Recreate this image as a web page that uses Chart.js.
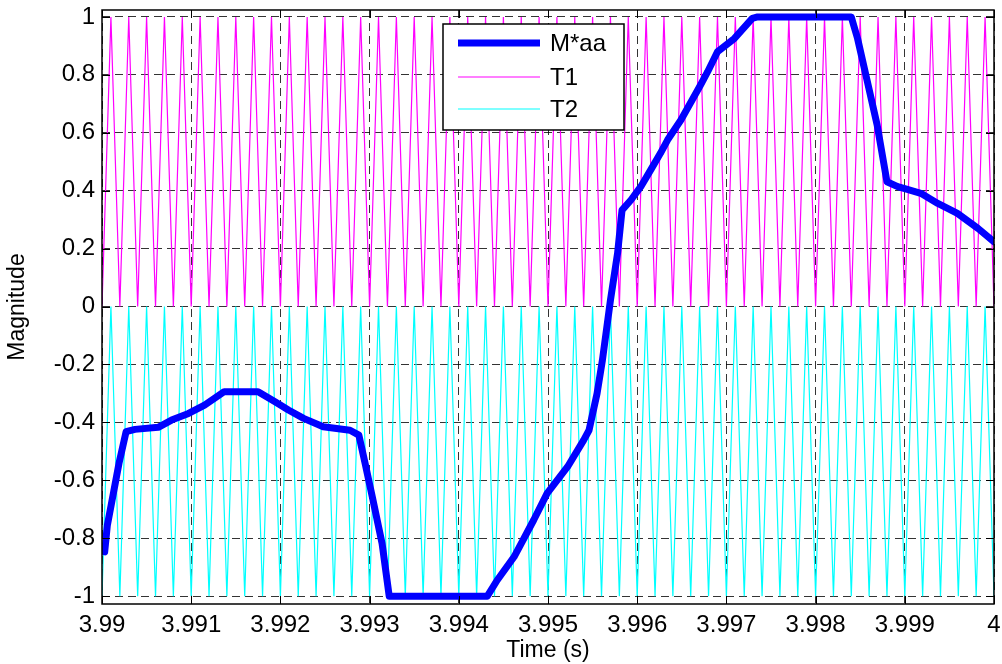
<!DOCTYPE html>
<html>
<head>
<meta charset="utf-8">
<script src="https://cdn.jsdelivr.net/npm/chart.js@4/dist/chart.umd.min.js"></script>
<style>
html,body{margin:0;padding:0;background:#fff;}
#wrap{width:1002px;height:664px;}
</style>
</head>
<body>
<div id="wrap"><canvas id="c" width="1002" height="664"></canvas></div>
<script>
// ---- data ----
const xTickValues = [3.99, 3.991, 3.992, 3.993, 3.994, 3.995, 3.996, 3.997, 3.998, 3.999, 4.0];
const xTickLabels = ['3.99', '3.991', '3.992', '3.993', '3.994', '3.995', '3.996', '3.997', '3.998', '3.999', '4'];
const yTickValues = [-1, -0.8, -0.6, -0.4, -0.2, 0, 0.2, 0.4, 0.6, 0.8, 1];
const yTickLabels = ['-1', '-0.8', '-0.6', '-0.4', '-0.2', '0', '0.2', '0.4', '0.6', '0.8', '1'];

const maTime = [3.99003, 3.99006, 3.9901, 3.99019, 3.99027, 3.99037, 3.99063, 3.99078, 3.99097, 3.99115,
  3.99137, 3.99175, 3.99194, 3.99209, 3.99226, 3.99248, 3.99278, 3.99288, 3.99295, 3.99303,
  3.99314, 3.99322, 3.99432, 3.99443, 3.99462, 3.99484, 3.99499, 3.99522, 3.9954, 3.99546,
  3.99555, 3.99561, 3.9957, 3.99578, 3.99583, 3.99593, 3.99604, 3.99615, 3.99626, 3.99634,
  3.99649, 3.99671, 3.99679, 3.9969, 3.99709, 3.99729, 3.99735, 3.9984, 3.99847, 3.99858,
  3.99869, 3.9988, 3.99892, 3.99899, 3.99918, 3.99937, 3.99959, 3.99982, 4.0];
const maValue = [-0.847, -0.755, -0.69, -0.542, -0.432, -0.424, -0.417, -0.392, -0.369, -0.340,
  -0.294, -0.294, -0.329, -0.357, -0.386, -0.415, -0.427, -0.444, -0.542, -0.657,
  -0.818, -1.0, -1.0, -0.945, -0.864, -0.737, -0.645, -0.553, -0.461, -0.427,
  -0.300, -0.185, 0.022, 0.184, 0.333, 0.368, 0.414, 0.471, 0.529, 0.575,
  0.644, 0.765, 0.811, 0.880, 0.926, 0.995, 1.0, 1.0, 0.926, 0.777,
  0.627, 0.431, 0.414, 0.408, 0.391, 0.356, 0.322, 0.270, 0.224];

const triTime = [3.99, 3.9901, 3.9902, 3.9903, 3.9904, 3.9905, 3.9906, 3.9907, 3.9908, 3.9909,
  3.991, 3.9911, 3.9912, 3.9913, 3.9914, 3.9915, 3.9916, 3.9917, 3.9918, 3.9919,
  3.992, 3.9921, 3.9922, 3.9923, 3.9924, 3.9925, 3.9926, 3.9927, 3.9928, 3.9929,
  3.993, 3.9931, 3.9932, 3.9933, 3.9934, 3.9935, 3.9936, 3.9937, 3.9938, 3.9939,
  3.994, 3.9941, 3.9942, 3.9943, 3.9944, 3.9945, 3.9946, 3.9947, 3.9948, 3.9949,
  3.995, 3.9951, 3.9952, 3.9953, 3.9954, 3.9955, 3.9956, 3.9957, 3.9958, 3.9959,
  3.996, 3.9961, 3.9962, 3.9963, 3.9964, 3.9965, 3.9966, 3.9967, 3.9968, 3.9969,
  3.997, 3.9971, 3.9972, 3.9973, 3.9974, 3.9975, 3.9976, 3.9977, 3.9978, 3.9979,
  3.998, 3.9981, 3.9982, 3.9983, 3.9984, 3.9985, 3.9986, 3.9987, 3.9988, 3.9989,
  3.999, 3.9991, 3.9992, 3.9993, 3.9994, 3.9995, 3.9996, 3.9997, 3.9998, 3.9999, 4.0];
const t1Value = [0, 1, 0, 1, 0, 1, 0, 1, 0, 1, 0, 1, 0, 1, 0, 1, 0, 1, 0, 1,
  0, 1, 0, 1, 0, 1, 0, 1, 0, 1, 0, 1, 0, 1, 0, 1, 0, 1, 0, 1,
  0, 1, 0, 1, 0, 1, 0, 1, 0, 1, 0, 1, 0, 1, 0, 1, 0, 1, 0, 1,
  0, 1, 0, 1, 0, 1, 0, 1, 0, 1, 0, 1, 0, 1, 0, 1, 0, 1, 0, 1,
  0, 1, 0, 1, 0, 1, 0, 1, 0, 1, 0, 1, 0, 1, 0, 1, 0, 1, 0, 1, 0];
const t2Value = [-1, 0, -1, 0, -1, 0, -1, 0, -1, 0, -1, 0, -1, 0, -1, 0, -1, 0, -1, 0,
  -1, 0, -1, 0, -1, 0, -1, 0, -1, 0, -1, 0, -1, 0, -1, 0, -1, 0, -1, 0,
  -1, 0, -1, 0, -1, 0, -1, 0, -1, 0, -1, 0, -1, 0, -1, 0, -1, 0, -1, 0,
  -1, 0, -1, 0, -1, 0, -1, 0, -1, 0, -1, 0, -1, 0, -1, 0, -1, 0, -1, 0,
  -1, 0, -1, 0, -1, 0, -1, 0, -1, 0, -1, 0, -1, 0, -1, 0, -1, 0, -1, 0, -1];

const seriesNames = ['M*aa', 'T1', 'T2'];
const seriesColors = ['#0000ff', '#ff00ff', '#00ffff'];

// ---- chart ----
const FONT = "'Liberation Sans', Arial, Helvetica, sans-serif";
const pts = (xs, ys) => xs.map((x, i) => ({x: x, y: ys[i]}));
const zeroPad = s => { s.paddingLeft = 0; s.paddingRight = 0; s.paddingTop = 0; s.paddingBottom = 0; };

const frameAndLegend = {
  id: 'frameAndLegend',
  afterDatasetsDraw(chart) {
    const ctx = chart.ctx;
    const a = chart.chartArea;
    const xs = chart.scales.x, ys = chart.scales.y;
    ctx.save();
    ctx.strokeStyle = '#000';
    ctx.lineWidth = 1.5;
    ctx.setLineDash([]);
    ctx.strokeRect(a.left, a.top, a.right - a.left, a.bottom - a.top);
    ctx.lineWidth = 1;
    const TL = 8;
    ctx.beginPath();
    xTickValues.forEach(v => {
      const px = Math.round(xs.getPixelForValue(v)) + 0.5;
      ctx.moveTo(px, a.bottom); ctx.lineTo(px, a.bottom - TL);
      ctx.moveTo(px, a.top); ctx.lineTo(px, a.top + TL);
    });
    yTickValues.forEach(v => {
      const py = Math.round(ys.getPixelForValue(v)) + 0.5;
      ctx.moveTo(a.left, py); ctx.lineTo(a.left + TL, py);
      ctx.moveTo(a.right, py); ctx.lineTo(a.right - TL, py);
    });
    ctx.stroke();

    // legend
    const bx = 443, by = 24, bw = 181, bh = 106;
    ctx.fillStyle = '#fff';
    ctx.fillRect(bx, by, bw, bh);
    ctx.lineWidth = 1.5;
    ctx.strokeRect(bx, by, bw, bh);
    const rowsY = [43, 77, 109];
    chart.data.datasets.forEach((ds, i) => {
      ctx.beginPath();
      ctx.strokeStyle = ds.borderColor;
      ctx.lineWidth = i === 0 ? 7 : 1.2;
      ctx.moveTo(458, rowsY[i]); ctx.lineTo(540, rowsY[i]);
      ctx.stroke();
      ctx.fillStyle = '#000';
      ctx.font = '24px ' + FONT;
      ctx.textBaseline = 'middle';
      ctx.textAlign = 'left';
      ctx.fillText(ds.label, 550, rowsY[i] + 1);
    });
    ctx.restore();
  }
};

new Chart(document.getElementById('c'), {
  type: 'line',
  data: {
    datasets: [
      {label: seriesNames[0], data: pts(maTime, maValue), borderColor: seriesColors[0], borderWidth: 7,
       pointRadius: 0, tension: 0, borderJoinStyle: 'round', borderCapStyle: 'round', fill: false},
      {label: seriesNames[1], data: pts(triTime, t1Value), borderColor: seriesColors[1], borderWidth: 1.2,
       pointRadius: 0, tension: 0, fill: false},
      {label: seriesNames[2], data: pts(triTime, t2Value), borderColor: seriesColors[2], borderWidth: 1.2,
       pointRadius: 0, tension: 0, fill: false}
    ]
  },
  options: {
    responsive: false,
    animation: false,
    events: [],
    layout: {padding: {top: 10, right: 8, left: 0, bottom: 0}},
    plugins: {legend: {display: false}, tooltip: {enabled: false}},
    scales: {
      x: {
        type: 'linear', min: 3.99, max: 4.0,
        afterBuildTicks: s => { s.ticks = xTickValues.map(v => ({value: v})); },
        afterFit: s => { s.height = 60; zeroPad(s); },
        ticks: {
          autoSkip: false, maxRotation: 0, padding: 7, color: '#000',
          font: {family: FONT, size: 24},
          callback: (v, i) => xTickLabels[i]
        },
        grid: {color: 'rgba(0,0,0,0.8)', lineWidth: 1, drawTicks: false},
        border: {display: false, dash: [8, 5]},
        title: {display: true, text: 'Time (s)', color: '#000', font: {family: FONT, size: 23}, padding: {top: 0, bottom: 0}}
      },
      y: {
        type: 'linear', min: -1.027, max: 1.024,
        afterBuildTicks: s => { s.ticks = yTickValues.map(v => ({value: v})); },
        afterFit: s => { s.width = 102; zeroPad(s); },
        ticks: {
          autoSkip: false, padding: 7, color: '#000',
          font: {family: FONT, size: 24},
          callback: (v, i) => yTickLabels[i]
        },
        grid: {color: 'rgba(0,0,0,0.8)', lineWidth: 1, drawTicks: false},
        border: {display: false, dash: [8, 5]},
        title: {display: true, text: 'Magnitude', color: '#000', font: {family: FONT, size: 23}, padding: {top: 4, bottom: 0}}
      }
    }
  },
  plugins: [frameAndLegend]
});
</script>
</body>
</html>
